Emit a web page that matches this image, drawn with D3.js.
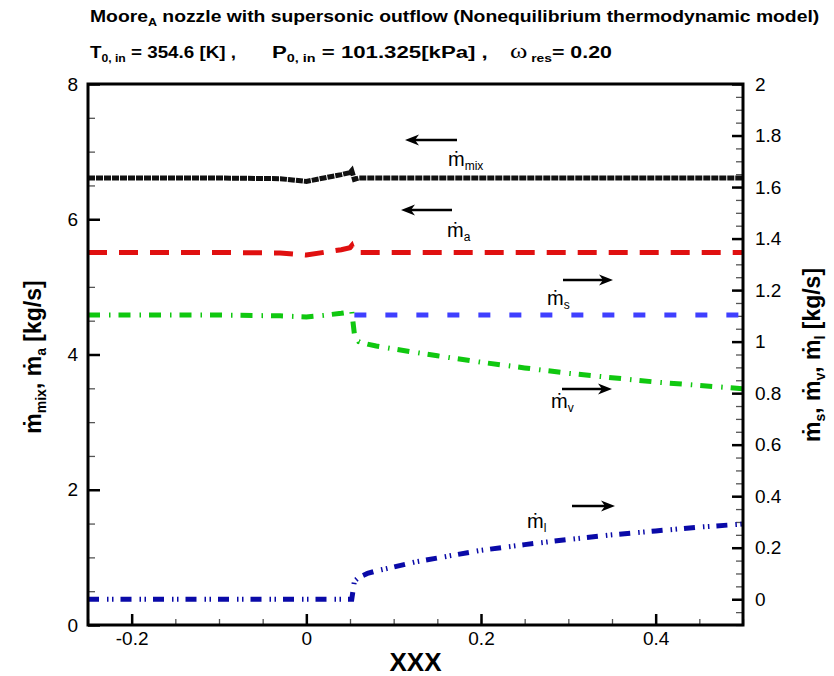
<!DOCTYPE html>
<html>
<head>
<meta charset="utf-8">
<script src="https://cdn.jsdelivr.net/npm/d3@7/dist/d3.min.js"></script>
<style>
  body { margin: 0; background: #fff; }
  svg text { font-family: "Liberation Sans", Arial, sans-serif; }
</style>
</head>
<body>
<div id="chart"></div>
<script>
// axial positions along the nozzle
const xs = [-0.25, -0.2, -0.1, -0.03, 0, 0.02, 0.04, 0.05, 0.052, 0.055, 0.06, 0.07, 0.08, 0.1, 0.125, 0.15, 0.2, 0.25, 0.3, 0.35, 0.4, 0.45, 0.5];

// left axis series
const mMix = [6.61, 6.61, 6.61, 6.60, 6.56, 6.61, 6.66, 6.69, 6.72, 6.59, 6.61, 6.61, 6.61, 6.61, 6.61, 6.61, 6.61, 6.61, 6.61, 6.61, 6.61, 6.61, 6.61];
const mA   = [5.51, 5.51, 5.51, 5.50, 5.47, 5.51, 5.55, 5.58, 5.61, 5.51, 5.51, 5.51, 5.51, 5.51, 5.51, 5.51, 5.51, 5.51, 5.51, 5.51, 5.51, 5.51, 5.51];

// right axis series
const mS = [null, null, null, null, null, null, null, null, null, 1.103, 1.103, 1.103, 1.103, 1.103, 1.103, 1.103, 1.103, 1.103, 1.103, 1.103, 1.103, 1.103, 1.103];
const mV = [1.103, 1.103, 1.103, 1.100, 1.096, 1.102, 1.110, 1.115, 1.118, 1.03, 1.00, 0.99, 0.983, 0.972, 0.958, 0.945, 0.920, 0.898, 0.877, 0.860, 0.843, 0.830, 0.817];
const mL = [0, 0, 0, 0, 0, 0, 0, 0, 0, 0.07, 0.085, 0.10, 0.11, 0.125, 0.145, 0.16, 0.19, 0.212, 0.232, 0.25, 0.265, 0.28, 0.292];

const xTicks = [-0.2, 0, 0.2, 0.4];
const leftTicks = [0, 2, 4, 6, 8];
const rightTicks = [0, 0.2, 0.4, 0.6, 0.8, 1, 1.2, 1.4, 1.6, 1.8, 2];

const W = 834, H = 676;
const margin = {top: 84, right: 91, bottom: 51, left: 88};
const width = W - margin.left - margin.right;
const height = H - margin.top - margin.bottom;

const svg = d3.select('#chart').append('svg')
  .attr('width', W).attr('height', H);

const g = svg.append('g')
  .attr('transform', 'translate(' + margin.left + ',' + margin.top + ')');

const x = d3.scaleLinear().domain([-0.25, 0.5]).range([0, width]);
const yL = d3.scaleLinear().domain([0, 8]).range([height, 0]);
const yR = d3.scaleLinear().domain([-0.1, 2]).range([height, 0]);

// ---- axes: major + minor ticks pointing inside ----
function styleAxis(sel, major) {
  sel.select('.domain').remove();
  sel.selectAll('.tick line').attr('stroke', major ? '#000' : '#555')
    .attr('stroke-width', major ? 2.5 : 1.3);
  sel.selectAll('.tick text').attr('fill', '#000').style('font-size', '19px');
}

g.append('g').attr('transform', 'translate(0,' + height + ')')
  .call(d3.axisBottom(x).tickValues(d3.range(-0.25, 0.501, 0.05)).tickSize(-6).tickFormat(''))
  .call(s => styleAxis(s, false));
g.append('g').attr('transform', 'translate(0,' + height + ')')
  .call(d3.axisBottom(x).tickValues(xTicks).tickSize(-11).tickPadding(7)
    .tickFormat(d => String(+d.toFixed(1))))
  .call(s => styleAxis(s, true));

g.append('g')
  .call(d3.axisLeft(yL).tickValues(d3.range(0, 8.01, 0.5)).tickSize(-7).tickFormat(''))
  .call(s => styleAxis(s, false));
g.append('g')
  .call(d3.axisLeft(yL).tickValues(leftTicks).tickSize(-12).tickPadding(10))
  .call(s => styleAxis(s, true));

g.append('g').attr('transform', 'translate(' + width + ',0)')
  .call(d3.axisRight(yR).tickValues(d3.range(-0.1, 2.001, 0.05)).tickSize(-7).tickFormat(''))
  .call(s => styleAxis(s, false));
g.append('g').attr('transform', 'translate(' + width + ',0)')
  .call(d3.axisRight(yR).tickValues(rightTicks).tickSize(-11).tickPadding(12)
    .tickFormat(d => String(+d.toFixed(1))))
  .call(s => styleAxis(s, true));

// ---- curves ----
function drawSeries(vals, y, color, dash, w) {
  const pts = xs.map((xv, i) => [xv, vals[i]]);
  const line = d3.line()
    .defined(d => d[1] !== null)
    .x(d => x(d[0])).y(d => y(d[1]));
  g.append('path')
    .datum(pts)
    .attr('d', line)
    .attr('fill', 'none')
    .attr('stroke', color)
    .attr('stroke-width', w)
    .attr('stroke-dasharray', dash);
}

drawSeries(mMix, yL, '#111111', '7,1', 5);
drawSeries(mA, yL, '#e01010', '19,12', 5);
drawSeries(mS, yR, '#3f3fff', '12,19', 5);
drawSeries(mV, yR, '#10c810', '12,9,1.5,8', 5);
drawSeries(mL, yR, '#0a0aa8', '11,8,1.5,3.5,1.5,7', 5);

// frame
g.append('rect')
  .attr('x', 0).attr('y', 0).attr('width', width).attr('height', height)
  .attr('fill', 'none').attr('stroke', '#000').attr('stroke-width', 3);

// ---- series annotations: arrow + m-dot label ----
const notes = [
  {sub: 'mix', x1: 457, x2: 405, ay: 140, lx: 448, ly: 166},
  {sub: 'a',   x1: 452, x2: 401, ay: 210, lx: 447, ly: 237},
  {sub: 's',   x1: 563, x2: 613, ay: 280, lx: 547, ly: 305},
  {sub: 'v',   x1: 562, x2: 612, ay: 389, lx: 551, ly: 408},
  {sub: 'l',   x1: 572, x2: 615, ay: 506, lx: 527, ly: 528}
];

notes.forEach(n => {
  const dir = n.x2 > n.x1 ? 1 : -1;
  svg.append('line')
    .attr('x1', n.x1).attr('y1', n.ay)
    .attr('x2', n.x2 - dir * 6).attr('y2', n.ay)
    .attr('stroke', '#000').attr('stroke-width', 2.5);
  svg.append('path')
    .attr('d', 'M' + n.x2 + ',' + n.ay +
      'L' + (n.x2 - dir * 14) + ',' + (n.ay - 5.5) +
      'L' + (n.x2 - dir * 10) + ',' + n.ay +
      'L' + (n.x2 - dir * 14) + ',' + (n.ay + 5.5) + 'Z')
    .attr('fill', '#000');
  const t = svg.append('text')
    .attr('x', n.lx).attr('y', n.ly)
    .style('font-size', '20px');
  t.append('tspan').text('ṁ');
  t.append('tspan').attr('dy', 4).style('font-size', '12px').text(n.sub);
});

// bold header text, stretched to span a given width
function header(xp, yp, w, parts) {
  const grp = svg.append('g');
  const t = grp.append('text')
    .style('font-size', '17px').style('font-weight', 'bold');
  parts.forEach(p => {
    const ts = t.append('tspan').attr('dy', p[2] || 0)
      .style('font-size', p[1] ? '11px' : '17px').text(p[0]);
    if (p[3]) ts.style('font-family', '"Liberation Serif", serif')
      .style('font-weight', 'normal').style('font-size', '21px');
  });
  const len = t.node().getComputedTextLength();
  grp.attr('transform', 'translate(' + xp + ',' + yp + ') scale(' + (w / len) + ',1)');
}

header(90, 22, 730, [['Moore'], ['A', true, 4], [' nozzle with supersonic outflow (Nonequilibrium thermodynamic model)', false, -4]]);
header(90, 58, 146, [['T'], ['0, in', true, 4], [' = 354.6 [K] ,', false, -4]]);
header(272, 58, 216, [['P'], ['0, in', true, 4], [' = 101.325[kPa] ,', false, -4]]);
header(510, 58, 102, [['ω', false, 0, true], [' res', true, 4], ['= 0.20', false, -4]]);

// x label
svg.append('text')
  .attr('x', margin.left + width / 2).attr('y', 671)
  .attr('text-anchor', 'middle')
  .style('font-size', '26px').style('font-weight', 'bold')
  .text('XXX');

// y labels (rotated)
function yLabel(xp, yc, parts) {
  const t = svg.append('text')
    .attr('transform', 'translate(' + xp + ',' + yc + ') rotate(-90)')
    .attr('text-anchor', 'middle')
    .style('font-size', '23px').style('font-weight', 'bold');
  parts.forEach(p => {
    t.append('tspan').attr('dy', p[2] || 0)
      .style('font-size', p[1] ? '14px' : '23px')
      .text(p[0]);
  });
}
yLabel(41, 357, [['ṁ'], ['mix', true, 5], [', ', false, -5], ['ṁ'], ['a', true, 5], [' [kg/s]', false, -5]]);
yLabel(820, 355, [['ṁ'], ['s', true, 5], [', ', false, -5], ['ṁ'], ['v', true, 5], [', ', false, -5], ['ṁ'], ['l', true, 5], [' [kg/s]', false, -5]]);
</script>
</body>
</html>
